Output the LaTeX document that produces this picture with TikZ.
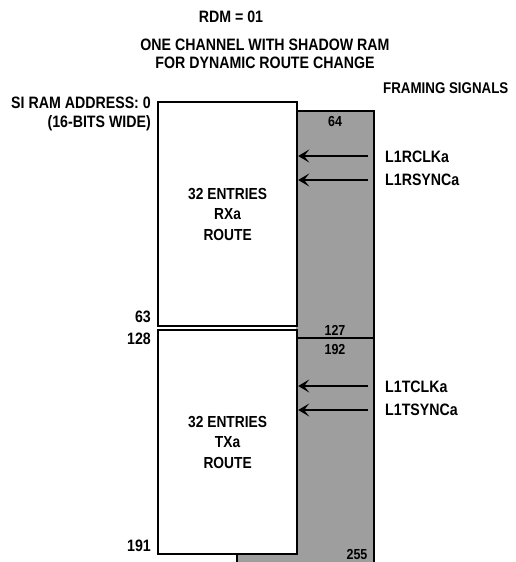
\documentclass[tikz,border=0pt]{standalone}
\usepackage{fontspec}
\setmainfont{Liberation Sans}[FakeStretch=0.86]
\usetikzlibrary{arrows.meta}

\begin{document}
\begin{tikzpicture}[x=1pt, y=-1pt,
  lbl/.style={font=\bfseries\fontsize{16.5}{18}\selectfont, inner sep=0pt},
  num/.style={font=\bfseries\fontsize{14.5}{16}\selectfont, inner sep=0pt},
  rambox/.style={draw, line width=2.2pt, fill=white, minimum width=139pt, anchor=north west, align=center, font=\bfseries\fontsize{16}{20.5}\selectfont},
  sigarrow/.style={-{Stealth[length=11pt, width=13pt, inset=5pt]}, line width=1.8pt}]
  \useasboundingbox (0,0) rectangle (515,562);

  % Title
  \node[lbl] (rdm) at (231,17) {RDM = 01};
  \node[lbl, align=center, font=\bfseries\fontsize{16.5}{17.5}\selectfont] (title) at (265,54) {ONE CHANNEL WITH SHADOW RAM\\FOR DYNAMIC ROUTE CHANGE};

  % Shadow RAM column (behind)
  \fill[black!38] (237,111) rectangle (374,565);
  \draw[line width=2.2pt] (237,565) -- (237,111) -- (374,111) -- (374,565);
  \draw[line width=2.2pt] (296,338) -- (374,338);
  \fill[white] (157,101) rectangle (296,553);

  % Active RAM boxes
  \node[rambox, minimum height=224pt] (rxbox) at (157,101) {32 ENTRIES\\RXa\\ROUTE};
  \node[rambox, minimum height=224pt] (txbox) at (157,329) {32 ENTRIES\\TXa\\ROUTE};

  % Addresses
  \node[lbl, anchor=east, align=right, font=\bfseries\fontsize{16.5}{19}\selectfont] (addr) at (151,114) {SI RAM ADDRESS: 0\\(16-BITS WIDE)};
  \node[lbl, anchor=east] (a63) at (151,317) {63};
  \node[lbl, anchor=east] (a128) at (151,339) {128};
  \node[lbl, anchor=east] (a191) at (151,546) {191};
  \node[num] (s64) at (335,122) {64};
  \node[num] (s127) at (335,330) {127};
  \node[num] (s192) at (335,350) {192};
  \node[num] (s255) at (357,555) {255};

  % Framing signals
  \node[lbl, anchor=west, font=\bfseries\fontsize{15.5}{17}\selectfont] (framing) at (383,88) {FRAMING SIGNALS};
  \node[lbl, anchor=west] (rclk) at (385,157) {L1RCLKa};
  \node[lbl, anchor=west] (rsync) at (385,180) {L1RSYNCa};
  \node[lbl, anchor=west] (tclk) at (385,387) {L1TCLKa};
  \node[lbl, anchor=west] (tsync) at (385,410) {L1TSYNCa};

  \coordinate (rclkS) at (368,156);
  \coordinate (rsyncS) at (368,180);
  \coordinate (tclkS) at (368,386);
  \coordinate (tsyncS) at (368,410);
  \draw[sigarrow] (rclkS) -- (rclkS -| rxbox.east);
  \draw[sigarrow] (rsyncS) -- (rsyncS -| rxbox.east);
  \draw[sigarrow] (tclkS) -- (tclkS -| txbox.east);
  \draw[sigarrow] (tsyncS) -- (tsyncS -| txbox.east);
\end{tikzpicture}
\end{document}
